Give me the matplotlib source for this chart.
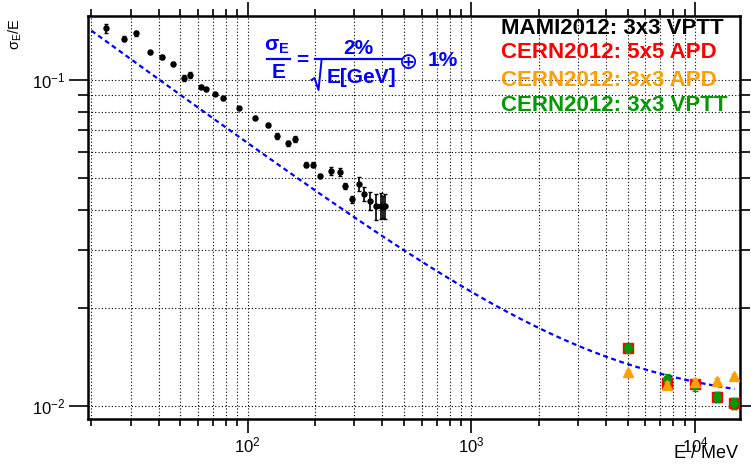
import numpy as np
import matplotlib
matplotlib.use("Agg")
import matplotlib.pyplot as plt
from matplotlib.lines import Line2D
from matplotlib.ticker import LogLocator

plt.rcParams['font.family'] = ['Liberation Sans', 'DejaVu Sans']

# MAMI2012 3x3 VPTT (energy in MeV, relative resolution)
mami_e = [23.3, 28.1, 31.8, 36.6, 41.5, 46.5, 51.7, 55.1, 61.6, 65.3, 71.2, 77.6,
          91.4, 107.8, 123.2, 135.6, 151, 162.3, 181.7, 195.9, 211.1, 235.7, 257.8,
          273.1, 292.6, 313.4, 331.9, 352.2, 374.6, 395.6, 402.6, 412.3]
mami_res = [0.1442, 0.1339, 0.1390, 0.1216, 0.1177, 0.1122, 0.1014, 0.1038, 0.0952,
            0.0938, 0.0906, 0.0880, 0.0820, 0.0766, 0.0727, 0.0673, 0.0639, 0.0659,
            0.0550, 0.0550, 0.0506, 0.0524, 0.0523, 0.0473, 0.0430, 0.0479, 0.0446,
            0.0426, 0.0410, 0.0411, 0.0408, 0.0410]
mami_err = [0.0048, 0.0024, 0.0023, 0.0013, 0.0013, 0.0012, 0.0021, 0.0022, 0.0010,
            0.0010, 0.0009, 0.0009, 0.0008, 0.0008, 0.0010, 0.0016, 0.0011, 0.0014,
            0.0010, 0.0010, 0.0007, 0.0015, 0.0015, 0.0011, 0.0010, 0.0023, 0.0022,
            0.0026, 0.0038, 0.0038, 0.0032, 0.0036]

# CERN2012 beam energies (MeV)
cern_e = [5000, 7500, 10000, 12500, 15000]
apd5_res = [0.0150, 0.01177, 0.01164, 0.01064, 0.01017]
apd5_err = [0.0004, 0.0004, 0.0003, 0.0004, 0.0004]
apd3_res = [0.01266, 0.01160, 0.01186, 0.01194, 0.01233]
apd3_err = [0.0002, 0.0002, 0.0002, 0.0002, 0.0002]
vptt3_res = [0.0150, 0.01211, 0.01160, 0.01064, 0.01017]
vptt3_err = [0.0005, 0.0004, 0.0005, 0.0004, 0.0004]

# resolution curve parameters (%) : a/sqrt(E[GeV]) (+) b
stoch_term = 2.0
const_term = 1.0
curve_range = [20, 15000]

W, H = 751, 467
BLUE = '#0000ff'


def fx(x):
    return x / W


def fy(y):
    return 1 - y / H


fig = plt.figure(figsize=(7.51, 4.67), dpi=100)
ax = fig.add_axes([fx(88), 48/H, (740-88)/W, (419-16)/H])
ax.set_xscale('log')
ax.set_yscale('log')
ax.set_xlim(19.32, 15880)
ax.set_ylim(0.0091, 0.1572)

E = np.logspace(np.log10(curve_range[0]), np.log10(curve_range[1]), 200)
curve = np.sqrt((stoch_term / np.sqrt(E / 1000.0))**2 + const_term**2) / 100.0
ax.plot(E, curve, color=BLUE, ls=(0, (2.2, 1.6)), lw=1.6, zorder=2)

ax.errorbar(mami_e, mami_res, yerr=mami_err, fmt='o', color='black', ms=3.6,
            elinewidth=1.2, capsize=1.5, zorder=3)
ax.errorbar(cern_e, apd5_res, yerr=apd5_err, fmt='s', color='#ff0000', ms=6.5,
            elinewidth=1.2, capsize=2, zorder=4)
ax.errorbar(cern_e, vptt3_res, yerr=vptt3_err, fmt='o', color='#009900', ms=5.5,
            elinewidth=1.2, capsize=2, zorder=5)
ax.errorbar(cern_e, apd3_res, yerr=apd3_err, fmt='^', color='#ff9f00', ms=7,
            elinewidth=1.2, capsize=2, zorder=6)

ax.xaxis.set_major_locator(LogLocator(base=10))
ax.xaxis.set_minor_locator(LogLocator(base=10, subs=np.arange(2, 10)))
ax.yaxis.set_major_locator(LogLocator(base=10))
ax.yaxis.set_minor_locator(LogLocator(base=10, subs=np.arange(2, 10)))
ax.grid(True, which='both', color='black', ls=(0, (1, 2)), lw=0.8)
ax.tick_params(which='both', direction='out', top=True, right=True,
               labelsize=12, width=1.2, pad=2)
ax.tick_params(axis='x', which='major', length=10)
ax.tick_params(axis='x', which='minor', length=5)
ax.tick_params(axis='y', which='major', length=14)
ax.tick_params(axis='y', which='minor', length=7)
for s in ax.spines.values():
    s.set_linewidth(1.8)

fig.text(fx(15), fy(18), r'$\mathdefault{\sigma_{E}/E}$', rotation=90,
         ha='center', va='top', fontsize=10.5)
fig.text(fx(738), fy(453), 'E / MeV', ha='right', va='center', fontsize=13)

# resolution formula, built piece by piece
fs = 15
fig.text(fx(277), fy(47), r'$\mathdefault{\sigma_{E}}$', color=BLUE, fontsize=fs,
         fontweight='bold', ha='center', va='center')
fig.text(fx(278.5), fy(72), 'E', color=BLUE, fontsize=fs, fontweight='bold',
         ha='center', va='center')
fig.text(fx(302.5), fy(60), '=', color=BLUE, fontsize=fs, fontweight='bold',
         ha='center', va='center')
fig.text(fx(358), fy(48.5), '2%', color=BLUE, fontsize=fs, fontweight='bold',
         ha='center', va='center')
fig.text(fx(361), fy(77.5), 'E[GeV]', color=BLUE, fontsize=fs, fontweight='bold',
         ha='center', va='center')
fig.text(fx(408.5), fy(60), '\u2295', color=BLUE, fontsize=16.5, family='DejaVu Sans',
         ha='center', va='center_baseline')
fig.text(fx(442.5), fy(60), '1%', color=BLUE, fontsize=fs, fontweight='bold',
         ha='center', va='center')
for x0, x1 in [(266.7, 290), (315, 401.7)]:
    fig.add_artist(Line2D([fx(x0), fx(x1)], [fy(59.3), fy(59.3)],
                          transform=fig.transFigure, color=BLUE, lw=1.6))
fig.add_artist(Line2D([fx(311.5), fx(314.5), fx(318.5), fx(321.5)],
                      [fy(80), fy(78), fy(90), fy(60.5)],
                      transform=fig.transFigure, color=BLUE, lw=1.4))

leg_text = ['MAMI2012: 3x3 VPTT', 'CERN2012: 5x5 APD', 'CERN2012: 3x3 APD', 'CERN2012: 3x3 VPTT']
leg_col = ['black', '#ff0000', '#ff9f00', '#009900']
leg_y = [28, 53, 80, 106]
for t, c, y in zip(leg_text, leg_col, leg_y):
    fig.text(fx(501), fy(y), t, color=c, fontsize=16, fontweight='bold',
             ha='left', va='center')

fig.savefig('out.png', dpi=100)
